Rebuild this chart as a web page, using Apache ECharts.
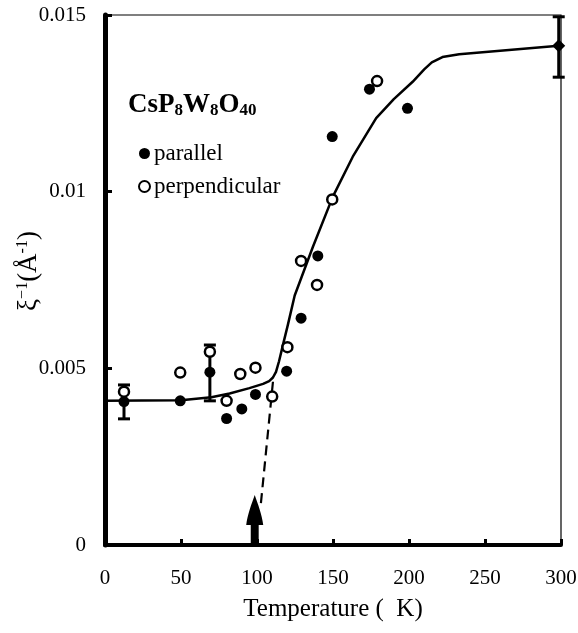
<!DOCTYPE html>
<html>
<head>
<meta charset="utf-8">
<script src="https://cdn.jsdelivr.net/npm/echarts@6/dist/echarts.min.js"></script>
<style>
  html, body { margin: 0; padding: 0; background: #fff; }
  #chart { width: 578px; height: 633px; }
</style>
</head>
<body>
<div id="chart"></div>
<script>
// temperature (K), inverse correlation length (1/Å)
var parallel = [
  [12.5, 0.00406], [49.5, 0.00408], [69, 0.00489], [80, 0.00358],
  [90, 0.00385], [99, 0.00426], [119.5, 0.00492], [129, 0.00642],
  [140, 0.00818], [149.5, 0.01156], [174, 0.01290], [199, 0.01236]
];
var perpendicular = [
  [12.5, 0.00434], [49.5, 0.00488], [69, 0.00547], [80, 0.00408],
  [89, 0.00484], [99, 0.00502], [110, 0.00420], [120, 0.00560],
  [129, 0.00804], [139.5, 0.00736], [149.5, 0.00978], [179, 0.01313]
];
var roomTemp = [[298.5, 0.01413]];
// [T, low, high]
var errorBars = [
  [12.5, 0.00357, 0.00453],
  [69, 0.00408, 0.00566],
  [298.5, 0.01324, 0.01495]
];
// guide line through the data
var fitCurve = [
  [-5, 0.00408], [50, 0.00410], [70, 0.00418], [82, 0.00429],
  [95, 0.00444], [104, 0.00456], [108, 0.00464], [110.5, 0.00474],
  [112.5, 0.00490], [114.5, 0.00520], [117, 0.00565], [120.3, 0.00623],
  [124.8, 0.00706], [136.8, 0.00844], [149.9, 0.00986], [163, 0.01099],
  [178.4, 0.01208], [190, 0.01262], [202.4, 0.01311], [210, 0.01346],
  [215, 0.01366], [222, 0.01381], [233, 0.01389], [298.5, 0.01413]
];
var extrapolation = [[110.5, 0.00462], [102.5, 0.00115]];
var transitionT = [[98.5, 0]];

var xTicks = [0, 300, 50];
var yTicks = [0, 0.015, 0.005];

var serif = 'Liberation Serif';

var chart = echarts.init(document.getElementById('chart'));
var option = {
  animation: false,
  backgroundColor: '#fff',
  title: {
    text: '{b|CsP}{s|8}{b|W}{s|8}{b|O}{s|40}',
    left: 128,
    top: 92,
    padding: 0,
    textStyle: {
      rich: {
        b: { fontFamily: serif, fontWeight: 'bold', fontSize: 27, color: '#000' },
        s: { fontFamily: serif, fontWeight: 'bold', fontSize: 17, color: '#000', padding: [10, 0, 0, 0] }
      }
    }
  },
  legend: {
    orient: 'vertical',
    left: 138,
    top: 142,
    padding: 0,
    itemWidth: 11,
    itemHeight: 11,
    itemGap: 10,
    icon: 'circle',
    data: ['parallel', 'perpendicular'],
    textStyle: { fontFamily: serif, fontSize: 23, color: '#000', padding: [0, 0, 0, -1] }
  },
  grid: {
    left: 105, right: 17, top: 15, bottom: 88,
    outerBoundsMode: 'none',
    show: true, borderColor: '#000', borderWidth: 1.2
  },
  xAxis: {
    type: 'value',
    min: xTicks[0], max: xTicks[1], interval: xTicks[2],
    name: 'Temperature (  K)',
    nameLocation: 'middle',
    nameGap: 52,
    nameMoveOverlap: false,
    nameTextStyle: { fontFamily: serif, fontSize: 25, color: '#000' },
    axisLine: { lineStyle: { color: '#000', width: 4 } },
    axisTick: { inside: true, length: 6, lineStyle: { color: '#000', width: 3 } },
    axisLabel: { fontFamily: serif, fontSize: 21, color: '#000', margin: 23 },
    splitLine: { show: false }
  },
  yAxis: {
    type: 'value',
    min: yTicks[0], max: yTicks[1], interval: yTicks[2],
    name: '{a|ξ}{s|−1}{a|(Å}{s|-1}{a|)}',
    nameLocation: 'middle',
    nameGap: 62,
    nameMoveOverlap: false,
    nameTextStyle: {
      padding: [0, 0, 0, 18],
      rich: {
        a: { fontFamily: serif, fontSize: 27, color: '#000' },
        s: { fontFamily: serif, fontSize: 16, color: '#000', padding: [0, 0, 12, 0] }
      }
    },
    axisLine: { lineStyle: { color: '#000', width: 5 } },
    axisTick: { inside: true, length: 7, lineStyle: { color: '#000', width: 3 } },
    axisLabel: { fontFamily: serif, fontSize: 21, color: '#000', margin: 19 },
    splitLine: { show: false }
  },
  series: [
    {
      name: 'fit',
      type: 'line',
      data: fitCurve,
      showSymbol: false,
      clip: false,
      lineStyle: { color: '#000', width: 2.5, join: 'round' },
      z: 2
    },
    {
      name: 'extrapolation',
      type: 'line',
      data: extrapolation,
      showSymbol: false,
      lineStyle: { color: '#000', width: 2.2, type: [10, 6] },
      z: 2
    },
    {
      name: 'errors',
      type: 'custom',
      data: errorBars,
      renderItem: function (params, api) {
        var x = api.value(0);
        var lo = api.coord([x, api.value(1)]);
        var hi = api.coord([x, api.value(2)]);
        var cap = 6;
        var style = { stroke: '#000', lineWidth: 3 };
        return {
          type: 'group',
          children: [
            { type: 'line', shape: { x1: lo[0], y1: lo[1], x2: hi[0], y2: hi[1] }, style: style },
            { type: 'line', shape: { x1: lo[0] - cap, y1: lo[1], x2: lo[0] + cap, y2: lo[1] }, style: style },
            { type: 'line', shape: { x1: hi[0] - cap, y1: hi[1], x2: hi[0] + cap, y2: hi[1] }, style: style }
          ]
        };
      },
      z: 3
    },
    {
      name: 'parallel',
      type: 'scatter',
      data: parallel,
      symbol: 'circle',
      symbolSize: 11,
      itemStyle: { color: '#000', borderColor: '#000', borderWidth: 0, opacity: 1 },
      z: 4
    },
    {
      name: 'perpendicular',
      type: 'scatter',
      data: perpendicular,
      symbol: 'circle',
      symbolSize: 10,
      itemStyle: { color: '#fff', borderColor: '#000', borderWidth: 2.5, opacity: 1 },
      z: 5
    },
    {
      name: 'room',
      type: 'scatter',
      data: roomTemp,
      symbol: 'diamond',
      symbolSize: 13,
      itemStyle: { color: '#000', opacity: 1 },
      z: 4
    },
    {
      name: 'Tc',
      type: 'scatter',
      data: transitionT,
      symbol: 'path://M8.5,0 C11,8 15,20 16,30 L12,30 L12,50 L5,50 L5,30 L1,30 C2,20 6,8 8.5,0 Z',
      symbolSize: [17, 50],
      symbolOffset: [0, '-50%'],
      itemStyle: { color: '#000', opacity: 1 },
      clip: false,
      z: 4
    }
  ]
};
chart.setOption(option);
window.addEventListener('resize', function () {
  chart.resize();
});
</script>
</body>
</html>
